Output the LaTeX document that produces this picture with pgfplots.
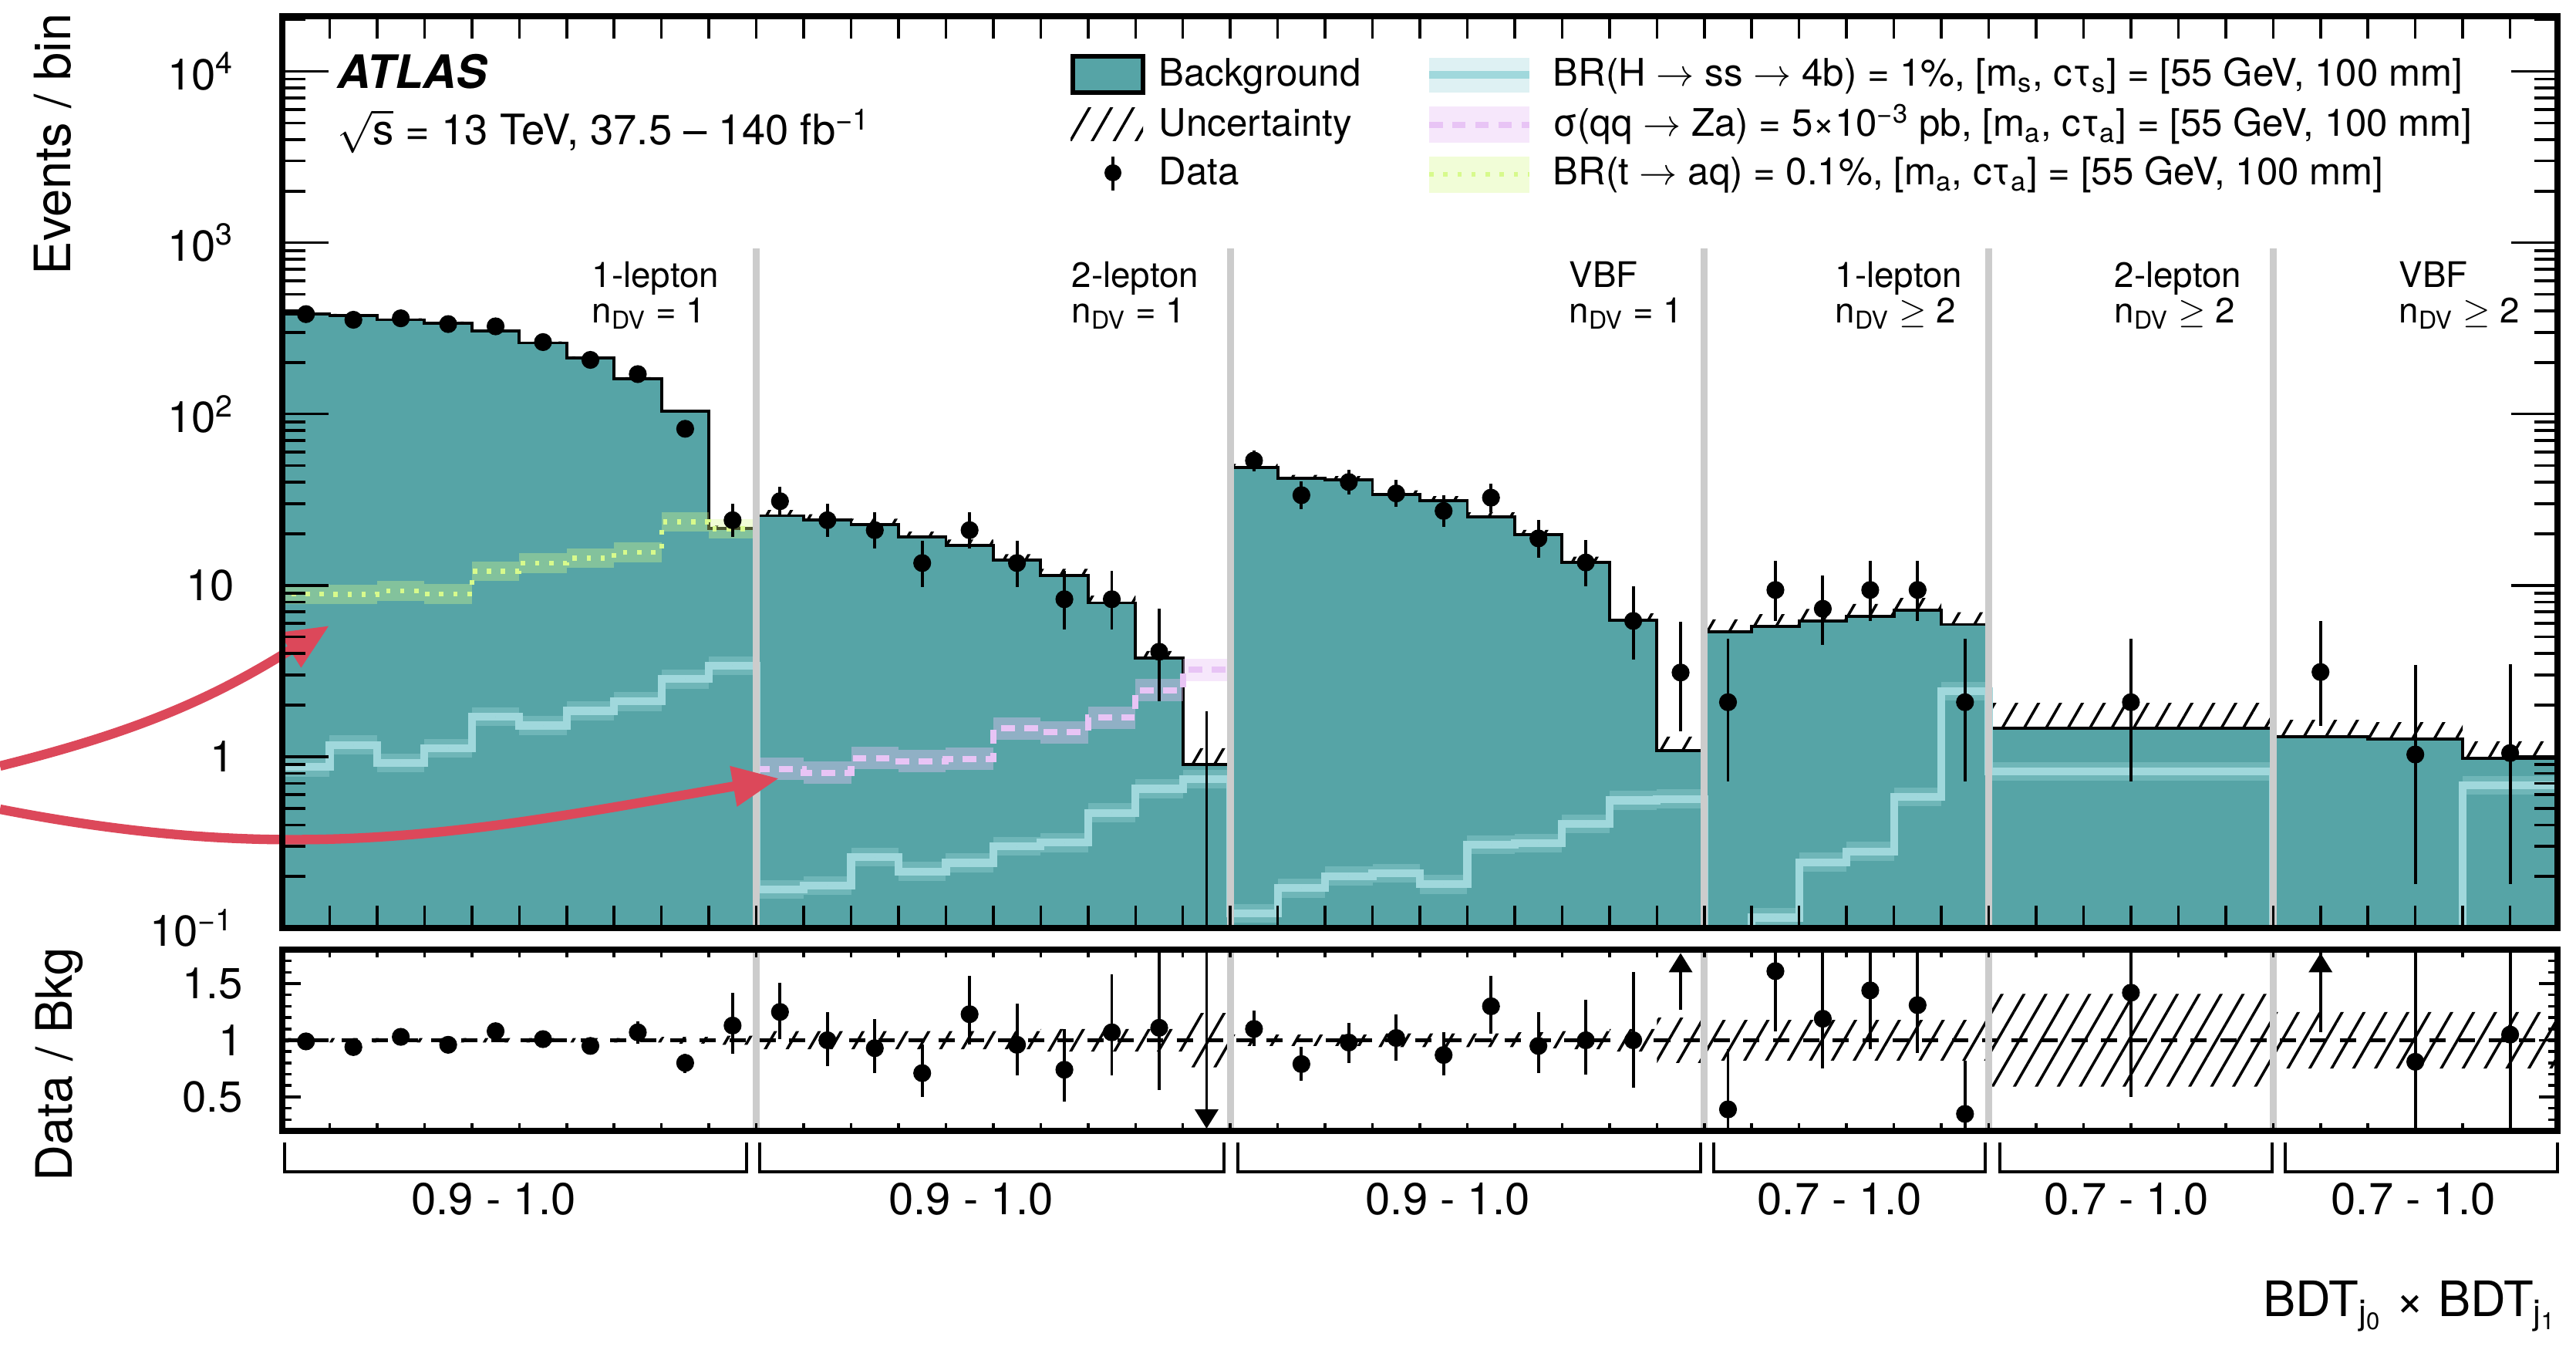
\RequirePackage{fix-cm}
\documentclass[border=0pt]{standalone}
\usepackage{fontspec}
\setmainfont{TeX Gyre Heros}
\usepackage{pgfplots}
\usepackage{pgfplotstable}
\pgfplotsset{compat=1.18}
\usepgfplotslibrary{fillbetween}
\usetikzlibrary{patterns.meta,arrows.meta}

\definecolor{bkg}{RGB}{86,164,166}
\definecolor{sigH}{RGB}{160,216,220}
\definecolor{sigZ}{RGB}{232,196,245}
\definecolor{sigT}{RGB}{215,250,140}
\definecolor{sepgray}{RGB}{204,204,204}
\definecolor{arrowred}{RGB}{220,72,90}

\newcommand{\fs}[1]{\fontsize{#1}{#1}\selectfont}
\pgfplotsset{band/.style={only marks, mark=*, mark size=0pt, mark options={draw=none, fill=none}, forget plot}}
\tikzset{txt/.style={inner sep=0pt}}

\begin{document}

% bin left edges: background, its band, H->ss signal, ratio band
\pgfplotstableread{
x bkg hi lo hs rhi rlo
0 383 390.7 375.3 0.87 1.02 0.98
1 377 384.5 369.5 1.17 1.02 0.98
2 355 362.1 347.9 0.92 1.02 0.98
3 340 346.8 333.2 1.12 1.02 0.98
4 305 311.1 298.9 1.71 1.02 0.98
5 260 265.2 254.8 1.52 1.02 0.98
6 213 217.3 208.7 1.85 1.02 0.98
7 161 164.2 157.8 2.10 1.02 0.98
8 104 106.1 101.9 2.84 1.03 0.97
9 21.4 22.3 20.5 3.40 1.04 0.96
10 25.5 27.5 23.5 0.168 1.08 0.92
11 24.1 26.0 22.2 0.177 1.08 0.92
12 22.7 24.5 20.9 0.259 1.08 0.92
13 19.1 20.6 17.6 0.214 1.08 0.92
14 17.1 18.5 15.7 0.24 1.08 0.92
15 14.1 15.2 13.0 0.30 1.08 0.92
16 11.4 12.5 10.3 0.315 1.10 0.90
17 7.9 8.7 7.1 0.47 1.10 0.90
18 3.76 4.14 3.38 0.65 1.10 0.90
19 0.90 1.12 0.68 0.74 1.24 0.76
20 48.7 51.1 46.3 0.122 1.05 0.95
21 42 44.1 39.9 0.171 1.05 0.95
22 41.4 43.5 39.3 0.201 1.05 0.95
23 33.9 35.9 31.9 0.209 1.06 0.94
24 31.3 33.2 29.4 0.18 1.06 0.94
25 25.2 26.7 23.7 0.306 1.06 0.94
26 19.7 21.1 18.3 0.313 1.07 0.93
27 13.6 14.7 12.5 0.405 1.08 0.92
28 6.24 6.86 5.62 0.556 1.10 0.90
29 1.09 1.31 0.87 0.566 1.20 0.80
30 5.37 6.34 4.40 0.05 1.18 0.82
31 5.75 6.79 4.72 0.115 1.18 0.82
32 6.17 7.28 5.06 0.242 1.18 0.82
33 6.6 7.79 5.41 0.28 1.18 0.82
34 7.15 8.44 5.86 0.583 1.18 0.82
35 5.91 6.97 4.85 2.41 1.18 0.82
36 1.46 2.06 0.86 0.82 1.41 0.59
42 1.31 1.64 0.98 0.05 1.25 0.75
44 1.27 1.59 0.95 0.05 1.25 0.75
46 0.98 1.23 0.74 0.68 1.25 0.75
48 0.98 1.23 0.74 0.68 1.25 0.75
}\steps

% bin centres: data with errors, H->ss signal
\pgfplotstableread{
xc xw d dp dm hs
0.5 0.5 383 20 19 0.87
1.5 0.5 355 19 18 1.17
2.5 0.5 362 19 18 0.92
3.5 0.5 335 19 18 1.12
4.5 0.5 325 19 18 1.71
5.5 0.5 263 17 16 1.52
6.5 0.5 207 15 14 1.85
7.5 0.5 171 14 13 2.10
8.5 0.5 82 10 9 2.84
9.5 0.5 24 6 4.9 3.40
10.5 0.5 31 6.6 5.5 0.168
11.5 0.5 24 5.9 4.8 0.177
12.5 0.5 21 5.6 4.5 0.259
13.5 0.5 13.5 4.8 3.7 0.214
14.5 0.5 21 5.6 4.5 0.24
15.5 0.5 13.5 4.8 3.7 0.30
16.5 0.5 8.3 3.9 2.8 0.315
17.5 0.5 8.3 3.9 2.8 0.47
18.5 0.5 4.1 3.2 2.0 0.65
19.5 0.5 0.05 1.79 0 0.74
20.5 0.5 53.5 7.8 7.3 0.122
21.5 0.5 33.6 6.8 5.8 0.171
22.5 0.5 40.1 7.4 6.3 0.201
23.5 0.5 34.4 6.9 5.8 0.209
24.5 0.5 27.2 6.3 5.2 0.18
25.5 0.5 32.5 6.7 5.7 0.306
26.5 0.5 18.8 5.4 4.3 0.313
27.5 0.5 13.6 4.8 3.7 0.405
28.5 0.5 6.2 3.7 2.5 0.556
29.5 0.5 3.1 3.0 1.7 0.566
30.5 0.5 2.08 2.8 1.36 0.05
31.5 0.5 9.4 4.5 3.2 0.115
32.5 0.5 7.3 4.1 2.8 0.242
33.5 0.5 9.4 4.5 3.2 0.28
34.5 0.5 9.4 4.5 3.2 0.583
35.5 0.5 2.08 2.8 1.36 2.41
39 3 2.08 2.8 1.36 0.82
43 1 3.12 3.1 1.6 0.05
45 1 1.03 2.4 0.85 0.05
47 1 1.05 2.4 0.87 0.68
}\pts

\pgfplotstableread{
x t
0 0.05
0 8.9
1 8.85
2 9.3
3 8.9
4 12.1
5 13.5
6 14.4
7 15.6
8 23.5
9 21.4
10 0.05
}\tsteps

\pgfplotstableread{
xc t
0.5 8.9
1.5 8.85
2.5 9.3
3.5 8.9
4.5 12.1
5.5 13.5
6.5 14.4
7.5 15.6
8.5 23.5
9.5 21.4
}\tpts

\pgfplotstableread{
x z
10 0.85
11 0.805
12 0.98
13 0.94
14 0.97
15 1.46
16 1.39
17 1.69
18 2.44
19 3.21
20 3.21
}\zsteps

\pgfplotstableread{
xc z
10.5 0.85
11.5 0.805
12.5 0.98
13.5 0.94
14.5 0.97
15.5 1.46
16.5 1.39
17.5 1.69
18.5 2.44
19.5 3.21
}\zpts

\pgfplotstableread{
xc r rp rm
0.5 0.99 0.05 0.05
1.5 0.94 0.05 0.05
2.5 1.03 0.05 0.05
3.5 0.96 0.05 0.05
4.5 1.08 0.06 0.06
5.5 1.01 0.06 0.06
6.5 0.95 0.07 0.07
7.5 1.07 0.10 0.10
8.5 0.80 0.08 0.09
9.5 1.13 0.29 0.25
10.5 1.25 0.26 0.24
11.5 1.00 0.25 0.23
12.5 0.93 0.26 0.22
13.5 0.71 0.25 0.21
14.5 1.23 0.34 0.27
15.5 0.96 0.36 0.27
16.5 0.74 0.36 0.28
17.5 1.07 0.51 0.38
18.5 1.11 0.85 0.55
20.5 1.10 0.16 0.15
21.5 0.79 0.15 0.15
22.5 0.98 0.17 0.18
23.5 1.02 0.21 0.20
24.5 0.87 0.20 0.18
25.5 1.30 0.27 0.24
26.5 0.95 0.30 0.24
27.5 1.00 0.36 0.30
28.5 1.00 0.60 0.42
30.5 0.39 0.53 0.39
31.5 1.61 0.90 0.53
32.5 1.19 0.60 0.44
33.5 1.44 0.60 0.52
34.5 1.31 0.60 0.42
35.5 0.35 0.47 0.35
39 1.42 0.60 0.92
45 0.81 1.00 0.81
47 1.05 1.00 1.05
}\rat

% ratio points off the scale
\pgfplotstableread{
x y dv
19.5 1.8 -1.58
29.5 1.27 0.50
43 1.07 0.70
}\rarrows

\begin{tikzpicture}

\begin{axis}[
  at={(3.66cm,5.47cm)}, anchor=south west,
  scale only axis, width=29.5cm, height=11.82cm,
  xmin=0, xmax=48, ymode=log, ymin=0.1, ymax=2.1e4,
  log origin y=infty,
  axis on top, axis line style={line width=2.2pt},
  tick pos=both, tick align=inside,
  xtick={0,...,48}, xticklabels={},
  ytick={0.1,1,10,100,1000,10000},
  yticklabels={10\textsuperscript{−1},1,10,10\textsuperscript{2},10\textsuperscript{3},10\textsuperscript{4}},
  minor ytick={0.2,0.3,0.4,0.5,0.6,0.7,0.8,0.9,2,3,4,5,6,7,8,9,20,30,40,50,60,70,80,90,200,300,400,500,600,700,800,900,2000,3000,4000,5000,6000,7000,8000,9000,20000},
  tick style={line width=1pt, black},
  xtick style={/pgfplots/major tick length=0.29cm},
  ytick style={/pgfplots/major tick length=0.6cm, /pgfplots/minor tick length=0.3cm},
  minor y tick style={/pgfplots/minor tick length=0.3cm},
  yticklabel style={font=\fs{16pt}, xshift=-0.5cm},
]
% background
\addplot[const plot mark left, fill=bkg, draw=none, forget plot] table[x=x, y=bkg]{\steps} \closedcycle;
\addplot[const plot mark left, black, line width=1.1pt] table[x=x, y=bkg]{\steps};

% H -> ss -> 4b
\addplot[band, error bars/.cd, x dir=both, x explicit, error mark=none,
  error bar style={line width=7pt, sigH, opacity=0.35}] table[x=xc, y=hs, x error=xw]{\pts};
\addplot[const plot mark left, sigH, line width=2.9pt] table[x=x, y=hs]{\steps};

% qq -> Za
\addplot[band, error bars/.cd, x dir=both, x fixed=0.5, error mark=none,
  error bar style={line width=8.3pt, sigZ, opacity=0.4}] table[x=xc, y=z]{\zpts};
\addplot[const plot mark left, sigZ, line width=2.3pt, dash pattern=on 5pt off 3.5pt] table[x=x, y=z]{\zsteps};

% t -> aq
\addplot[band, error bars/.cd, x dir=both, x fixed=0.5, error mark=none,
  error bar style={line width=7.3pt, sigT, opacity=0.35}] table[x=xc, y=t]{\tpts};
\addplot[const plot mark left, sigT, line width=1.8pt, dash pattern=on 1.6pt off 3.6pt] table[x=x, y=t]{\tsteps};

% uncertainty
\addplot[name path=bhi, draw=none, const plot mark left] table[x=x, y=hi]{\steps};
\addplot[name path=blo, draw=none, const plot mark left] table[x=x, y=lo]{\steps};
\addplot[pattern={Lines[angle=60, distance=7pt, line width=1pt]}, draw=none] fill between[of=bhi and blo];

\pgfplotsinvokeforeach{10,20,30,36,42}{
  \draw[sepgray, line width=2.5pt] (axis cs:#1,0.05) -- (axis cs:#1,930);
}

% data
\addplot[only marks, mark=*, mark size=3.1pt, black,
  error bars/.cd, y dir=both, y explicit, error mark=none, error bar style={line width=1.1pt}]
  table[x=xc, y=d, y error plus=dp, y error minus=dm]{\pts};
\end{axis}

\begin{axis}[
  at={(3.66cm,2.84cm)}, anchor=south west,
  scale only axis, width=29.5cm, height=2.35cm,
  xmin=0, xmax=48, ymin=0.2, ymax=1.8,
  axis on top, axis line style={line width=2.2pt},
  tick pos=both, tick align=inside,
  xtick={0,...,48}, xticklabels={},
  ytick={0.5,1,1.5}, yticklabels={0.5,1,1.5},
  minor ytick={0.3,0.4,0.6,0.7,0.8,0.9,1.1,1.2,1.3,1.4,1.6,1.7},
  tick style={line width=1pt, black},
  xtick style={/pgfplots/major tick length=0.1cm},
  ytick style={/pgfplots/major tick length=0.24cm, /pgfplots/minor tick length=0.12cm},
  minor y tick style={/pgfplots/minor tick length=0.12cm},
  yticklabel style={font=\fs{16pt}, xshift=-0.39cm},
]
\addplot[name path=rhi, draw=none, const plot mark left] table[x=x, y=rhi]{\steps};
\addplot[name path=rlo, draw=none, const plot mark left] table[x=x, y=rlo]{\steps};
\addplot[pattern={Lines[angle=60, distance=7pt, line width=1pt]}, draw=none] fill between[of=rhi and rlo];
\addplot[black, line width=1.2pt, dash pattern=on 6pt off 5pt] coordinates {(0,1) (48,1)};

\pgfplotsinvokeforeach{10,20,30,36,42}{
  \draw[sepgray, line width=2.5pt] (axis cs:#1,0.2) -- (axis cs:#1,1.8);
}

\addplot[only marks, mark=*, mark size=3.1pt, black,
  error bars/.cd, y dir=both, y explicit, error mark=none, error bar style={line width=1.1pt}]
  table[x=xc, y=r, y error plus=rp, y error minus=rm]{\rat};
\addplot[black, line width=1.1pt, mark=none, quiver={u=0, v=\thisrow{dv}},
  -{Triangle[width=0.3cm, length=0.25cm]}] table[x=x, y=y]{\rarrows};
\end{axis}

% axis titles
\node[txt, rotate=90, anchor=base east, font=\fs{18.5pt}] at (0.91,17.33) {Events / bin};
\node[txt, rotate=90, anchor=base east, font=\fs{18.5pt}] at (0.93,5.22) {Data / Bkg};
\node[txt, anchor=base east, font=\fs{18pt}] at (33.16,0.43)
  {BDT\textsubscript{j\textsubscript{0}} × BDT\textsubscript{j\textsubscript{1}}};

% group brackets below the ratio panel
\foreach \a/\b in {3.69/9.68, 9.85/15.87, 16.05/22.05, 22.22/25.74, 25.93/29.46, 29.63/33.16}
  \draw[line width=0.9pt] (\a,2.69) -- (\a,2.31) -- (\b,2.31) -- (\b,2.69);
\foreach \c/\t in {6.40/0.9 - 1.0, 12.59/0.9 - 1.0, 18.77/0.9 - 1.0, 23.85/0.7 - 1.0, 27.57/0.7 - 1.0, 31.29/0.7 - 1.0}
  \node[txt, anchor=base, font=\fs{16.5pt}] at (\c,1.75) {\t};

% ATLAS label
\node[txt, anchor=base west, font=\fs{17pt}] at (4.37,16.35) {\textbf{\textit{ATLAS}}};
\node[txt, anchor=base west, font=\fs{15.5pt}] at (4.37,15.62)
  {$\sqrt{\mbox{s}}$ = 13 TeV, 37.5 – 140 fb\textsuperscript{−1}};

% region labels
\foreach \x/\a/\b in {7.67/1-lepton/{n\textsubscript{DV} = 1},
                      13.89/2-lepton/{n\textsubscript{DV} = 1},
                      20.34/VBF/{n\textsubscript{DV} = 1},
                      23.79/1-lepton/{n\textsubscript{DV} $\geq$ 2},
                      27.41/2-lepton/{n\textsubscript{DV} $\geq$ 2},
                      31.10/VBF/{n\textsubscript{DV} $\geq$ 2}} {
  \node[txt, anchor=base west, font=\fs{13pt}] at (\x,13.77) {\a};
  \node[txt, anchor=base west, font=\fs{13pt}] at (\x,13.31) {\b};
}

% legend
\filldraw[fill=bkg, draw=black, line width=1.5pt] (13.91,16.30) rectangle (14.82,16.77);
\fill[pattern={Lines[angle=60, distance=7pt, line width=1pt]}] (13.88,15.67) rectangle (14.82,16.10);
\draw[line width=1.1pt] (14.43,15.03) -- (14.43,15.47);
\fill (14.43,15.26) circle (0.11);
\node[txt, anchor=base west, font=\fs{14pt}] at (15.02,16.38) {Background};
\node[txt, anchor=base west, font=\fs{14pt}] at (15.02,15.73) {Uncertainty};
\node[txt, anchor=base west, font=\fs{14pt}] at (15.02,15.10) {Data};

\fill[sigH, opacity=0.35] (18.53,16.30) rectangle (19.83,16.75);
\draw[sigH, line width=2.9pt] (18.53,16.53) -- (19.83,16.53);
\fill[sigZ, opacity=0.4] (18.53,15.65) rectangle (19.83,16.12);
\draw[sigZ, line width=2.3pt, dash pattern=on 5pt off 3.5pt] (18.53,15.88) -- (19.83,15.88);
\fill[sigT, opacity=0.35] (18.53,15.00) rectangle (19.83,15.47);
\draw[sigT, line width=1.8pt, dash pattern=on 1.6pt off 3.6pt] (18.53,15.24) -- (19.83,15.24);
\node[txt, anchor=base west, font=\fs{14pt}] at (20.13,16.38)
  {BR(H $\rightarrow$ ss $\rightarrow$ 4b) = 1\%, [m\textsubscript{s}, cτ\textsubscript{s}] = [55 GeV, 100 mm]};
\node[txt, anchor=base west, font=\fs{14pt}] at (20.13,15.73)
  {σ(qq $\rightarrow$ Za) = 5×10\textsuperscript{−3} pb, [m\textsubscript{a}, cτ\textsubscript{a}] = [55 GeV, 100 mm]};
\node[txt, anchor=base west, font=\fs{14pt}] at (20.13,15.10)
  {BR(t $\rightarrow$ aq) = 0.1\%, [m\textsubscript{a}, cτ\textsubscript{a}] = [55 GeV, 100 mm]};

% red arrows
\draw[arrowred, line width=3.5pt, -{Triangle[length=0.6cm, width=0.5cm]}]
  (0,7.57) to[out=14, in=212] (4.27,9.39);
\draw[arrowred, line width=3.5pt, -{Triangle[length=0.6cm, width=0.5cm]}]
  (0,7.01) .. controls (3.9,6.25) and (6.16,6.72) .. (10.10,7.41);

\pgfresetboundingbox
\useasboundingbox (0,0) rectangle (33.4,17.5);
\end{tikzpicture}
\end{document}
